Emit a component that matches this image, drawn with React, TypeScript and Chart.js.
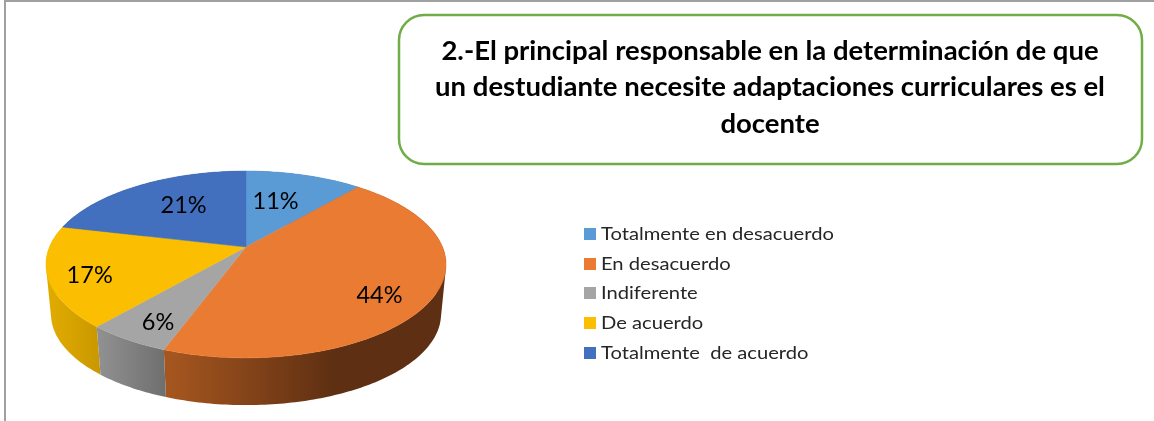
import React, { useEffect, useRef } from "react";
import { Chart, registerables } from "chart.js";

Chart.register(...registerables);

const categories = [
  "Totalmente en desacuerdo",
  "En desacuerdo",
  "Indiferente",
  "De acuerdo",
  "Totalmente  de acuerdo",
];
const percentValues = [11.3, 44.3, 5.7, 17.4, 21.3];
const sliceColors = ["#5B9BD5", "#EA7B32", "#A5A5A5", "#FBBE00", "#4270BF"];
const titleLines = [
  "2.-El principal responsable en la determinación de que",
  "un destudiante necesite adaptaciones curriculares es el",
  "docente",
];

const FONT = "Lato, 'Open Sans', sans-serif";
const wallStops = [
  ["#3F6D96", "#3F6D96"],
  ["#A5561F", "#5E2F12"],
  ["#909090", "#6F6F6F"],
  ["#E0AB00", "#C99800"],
  ["#2F4F87", "#2F4F87"],
];
const wallRanges = [
  [246, 446],
  [170, 335],
  [100, 165],
  [50, 100],
  [46, 246],
];
const labelNudges = [
  [-13, 7],
  [6.5, 14],
  [-9.5, 14],
  [-20, 8.5],
  [15, 3],
];
const legendRowsY = [234, 264, 293, 323, 353];

const SX = 1.31;
const SY = 0.601;
const K = 0.187;
const WALL_SCALE = 0.975;
const WALL_DROP = 50;
const LEGEND_STRETCH = 1.12;

function project(el: any, angle: number, r: number) {
  const u = Math.cos(angle) * r;
  const v = Math.sin(angle) * r;
  const w = 1 - K * v;
  const R = el.outerRadius;
  return { x: el.x + (SX * R * u) / w, y: el.y + (SY * R * v) / w };
}

function edgePoints(el: any) {
  const pts = [];
  const n = Math.max(8, Math.ceil((el.endAngle - el.startAngle) * 60));
  for (let i = 0; i <= n; i++) {
    pts.push(project(el, el.startAngle + ((el.endAngle - el.startAngle) * i) / n, 1));
  }
  return pts;
}

const tiltedPie = {
  id: "tiltedPie",
  beforeDatasetDraw(chart: any, args: any) {
    const { ctx } = chart;
    const arcs = chart.getDatasetMeta(args.index).data;
    const order = arcs
      .map((_: any, i: number) => i)
      .sort(
        (a: number, b: number) =>
          Math.sin((arcs[a].startAngle + arcs[a].endAngle) / 2) -
          Math.sin((arcs[b].startAngle + arcs[b].endAngle) / 2)
      );
    ctx.save();
    for (const i of order) {
      const el = arcs[i];
      const pts = edgePoints(el);
      const g = ctx.createLinearGradient(wallRanges[i][0], 0, wallRanges[i][1], 0);
      g.addColorStop(0, wallStops[i][0]);
      g.addColorStop(1, wallStops[i][1]);
      ctx.fillStyle = g;
      const lower = (p: any) => ({
        x: el.x + (p.x - el.x) * WALL_SCALE,
        y: el.y + WALL_DROP + (p.y - el.y) * WALL_SCALE,
      });
      ctx.beginPath();
      for (let j = 0; j < pts.length - 1; j++) {
        let quad = [pts[j], pts[j + 1], lower(pts[j + 1]), lower(pts[j])];
        let area = 0;
        quad.forEach((p: any, k: number) => {
          const q: any = quad[(k + 1) % 4];
          area += p.x * q.y - q.x * p.y;
        });
        if (area < 0) quad = quad.reverse();
        quad.forEach((p: any, k: number) => (k ? ctx.lineTo(p.x, p.y) : ctx.moveTo(p.x, p.y)));
        ctx.closePath();
      }
      ctx.fill("nonzero");
    }
    arcs.forEach((el: any, i: number) => {
      const pts = edgePoints(el);
      ctx.fillStyle = sliceColors[i];
      ctx.strokeStyle = sliceColors[i];
      ctx.lineWidth = 0.5;
      ctx.beginPath();
      ctx.moveTo(el.x, el.y);
      pts.forEach((p: any) => ctx.lineTo(p.x, p.y));
      ctx.closePath();
      ctx.fill();
      ctx.stroke();
    });
    ctx.restore();
    return false;
  },
  afterDraw(chart: any) {
    const { ctx } = chart;
    const arcs = chart.getDatasetMeta(0).data;
    ctx.save();

    // frame
    ctx.strokeStyle = "#A0A0A0";
    ctx.lineWidth = 2;
    ctx.beginPath();
    ctx.moveTo(5, 421);
    ctx.lineTo(5, 1);
    ctx.lineTo(1154, 1);
    ctx.stroke();

    // value labels
    ctx.fillStyle = "#000000";
    ctx.font = `23.5px ${FONT}`;
    ctx.textAlign = "center";
    ctx.textBaseline = "middle";
    arcs.forEach((el: any, i: number) => {
      const p = project(el, (el.startAngle + el.endAngle) / 2, 0.7);
      ctx.fillText(
        `${Math.round(percentValues[i])}%`,
        p.x + labelNudges[i][0],
        p.y + labelNudges[i][1]
      );
    });

    // legend
    ctx.textAlign = "left";
    ctx.font = `18px ${FONT}`;
    categories.forEach((c, i) => {
      ctx.fillStyle = sliceColors[i];
      ctx.fillRect(584, legendRowsY[i] - 6, 12, 12);
      ctx.fillStyle = "#262626";
      ctx.save();
      ctx.translate(601, legendRowsY[i]);
      ctx.scale(LEGEND_STRETCH, 1);
      ctx.fillText(c, 0, 0);
      ctx.restore();
    });

    // title box
    ctx.fillStyle = "#FFFFFF";
    ctx.strokeStyle = "#70AD47";
    ctx.lineWidth = 2.5;
    ctx.beginPath();
    ctx.roundRect(399, 15, 743, 149, 25);
    ctx.fill();
    ctx.stroke();
    ctx.fillStyle = "#000000";
    ctx.textAlign = "center";
    ctx.font = `bold 27.5px ${FONT}`;
    titleLines.forEach((t, i) => ctx.fillText(t, 770, 51 + i * 36.5));
    ctx.restore();
  },
};

export default function App() {
  const ref = useRef<HTMLCanvasElement>(null);
  useEffect(() => {
    const chart = new Chart(ref.current as HTMLCanvasElement, {
      type: "pie",
      data: {
        labels: categories,
        datasets: [{ data: percentValues, backgroundColor: sliceColors, borderWidth: 0 }],
      },
      options: {
        responsive: false,
        animation: false,
        layout: { padding: { left: 96, right: 758, top: 97, bottom: 24 } },
        plugins: { legend: { display: false }, tooltip: { enabled: false } },
      },
      plugins: [tiltedPie],
    } as any);
    return () => chart.destroy();
  }, []);
  return (
    <div style={{ position: "fixed", left: 0, top: 0, width: 1154, height: 421, background: "#fff" }}>
      <canvas ref={ref} width={1154} height={421} style={{ display: "block" }} />
    </div>
  );
}
